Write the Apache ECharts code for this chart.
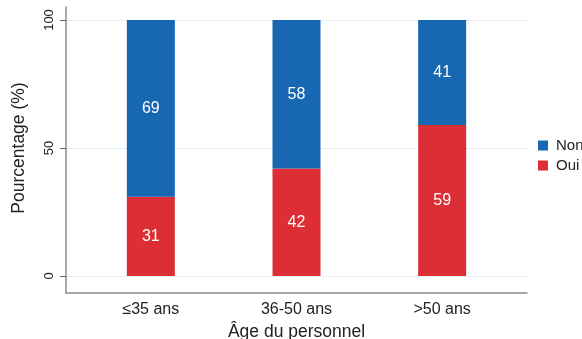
<!DOCTYPE html>
<html>
<head>
<meta charset="utf-8">
<script src="https://cdn.jsdelivr.net/npm/echarts@6/dist/echarts.min.js"></script>
<style>
html,body{margin:0;padding:0;background:#fff;}
#chart{width:582px;height:339px;}
</style>
</head>
<body>
<div id="chart"></div>
<script>
var categories = ['≤35 ans', '36-50 ans', '>50 ans'];
var oui = [31, 42, 59];
var non = [69, 58, 41];
var yTicks = [0, 50, 100];
var seriesNames = ['Non', 'Oui'];
var xTitle = 'Âge du personnel';
var yTitle = 'Pourcentage (%)';

var chart = echarts.init(document.getElementById('chart'), null, {renderer: 'canvas'});
var font = 'Liberation Sans, Arial, sans-serif';
var blue = '#1767b3';
var red = '#dc2e34';

chart.setOption({
  animation: false,
  textStyle: {fontFamily: font},
  legend: {
    data: seriesNames,
    orient: 'vertical',
    left: 533,
    top: 133,
    itemWidth: 10,
    itemHeight: 10,
    itemGap: 5,
    icon: 'rect',
    textStyle: {fontSize: 15, color: '#222', fontFamily: font, padding: [0, 0, 0, 3]}
  },
  grid: [
    {left: 66, right: 55, top: 7, bottom: 46, outerBoundsMode: 'none', containLabel: false},
    {left: 78, right: 67, top: 20, bottom: 63, outerBoundsMode: 'none', containLabel: false},
    {left: 66, right: 55, top: 20, bottom: 63, outerBoundsMode: 'none', containLabel: false}
  ],
  xAxis: [
    {gridIndex: 0, type: 'value', min: 0, max: 1, axisLine: {show: true, onZero: false, lineStyle: {color: '#8a8a8a', width: 1.5}},
     axisTick: {show: false}, axisLabel: {show: false}, splitLine: {show: false}},
    {gridIndex: 1, type: 'category', data: categories, axisLine: {show: false}, axisTick: {show: false},
     axisLabel: {fontSize: 16, color: '#222', margin: 26, fontFamily: font},
     name: xTitle, nameLocation: 'middle', nameGap: 41,
     nameTextStyle: {fontSize: 17.5, color: '#222', fontFamily: font}},
    {gridIndex: 2, type: 'value', min: 0, max: 1, show: false}
  ],
  yAxis: [
    {gridIndex: 0, type: 'value', min: 0, max: 1, axisLine: {show: true, onZero: false, lineStyle: {color: '#8a8a8a', width: 1.5}},
     axisTick: {show: false}, axisLabel: {show: false}, splitLine: {show: false}},
    {gridIndex: 1, type: 'value', min: yTicks[0], max: yTicks[yTicks.length-1], show: false},
    {gridIndex: 2, type: 'value', min: yTicks[0], max: yTicks[yTicks.length-1], interval: 50,
     axisLine: {show: false},
     axisTick: {show: true, length: 6, lineStyle: {color: '#666', width: 1}},
     axisLabel: {rotate: 90, fontSize: 13, color: '#222', margin: 10, fontFamily: font},
     splitLine: {show: true, lineStyle: {color: '#e6eff6', width: 1}},
     name: yTitle, nameLocation: 'middle', nameGap: 38,
     nameTextStyle: {fontSize: 17.5, color: '#222', fontFamily: font}}
  ],
  series: [
    {name: 'Oui', type: 'bar', stack: 'total', xAxisIndex: 1, yAxisIndex: 1, data: oui, barWidth: 48,
     itemStyle: {color: red},
     label: {show: true, position: 'inside', color: '#fff', fontSize: 16, fontFamily: font}},
    {name: 'Non', type: 'bar', stack: 'total', xAxisIndex: 1, yAxisIndex: 1, data: non, barWidth: 48,
     itemStyle: {color: blue},
     label: {show: true, position: 'inside', color: '#fff', fontSize: 16, fontFamily: font}}
  ]
});
</script>
</body>
</html>
